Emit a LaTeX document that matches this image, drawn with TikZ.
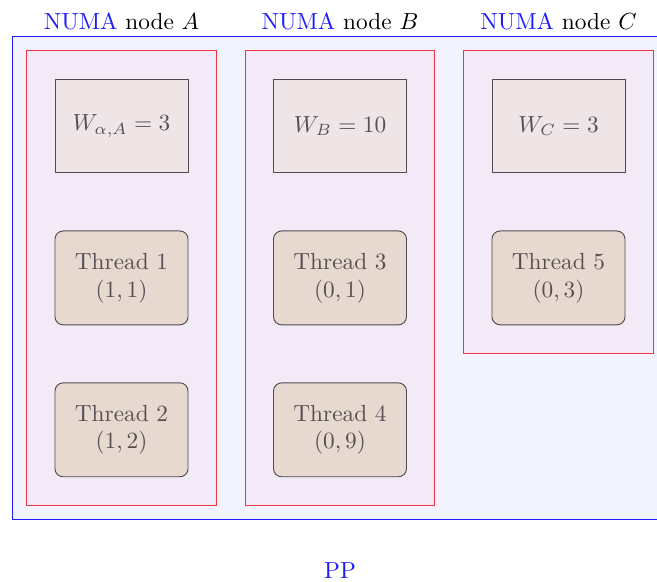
\documentclass[tikz,border=0pt]{standalone}
\usetikzlibrary{positioning, fit}
\definecolor{ppblue}{RGB}{30,30,250}
\definecolor{ppfill}{RGB}{243,243,253}
\definecolor{numared}{RGB}{240,55,65}
\definecolor{numafill}{RGB}{242,234,246}
\definecolor{wfill}{RGB}{239,229,231}
\definecolor{thfill}{RGB}{232,217,208}
\definecolor{boxline}{RGB}{80,74,78}
\definecolor{boxtext}{RGB}{85,78,82}
\pgfdeclarelayer{back}
\pgfdeclarelayer{mid}
\pgfsetlayers{back,mid,main}
\tikzset{
  wbox/.style={rectangle,draw=boxline,fill=wfill,text=boxtext,align=center,inner sep=0pt,minimum width=57.1pt,minimum height=40.3pt},
  thread/.style={wbox,fill=thfill,rounded corners=3.5pt},
  numa/.style={rectangle,draw=numared,fill=numafill,inner sep=12pt},
  pp/.style={rectangle,draw=ppblue,fill=ppfill,inner sep=6pt},
  numalabel/.style={inner sep=0pt}
}

\begin{document}
\begin{tikzpicture}[x=0.4292pt, y=-0.4292pt, node distance=24.5pt]
\clip (0,0) rectangle (657,582);
% weights
\node[wbox] (wa) at (121.5,126) {$W_{\alpha,A} = 3$};
\node[wbox] (wb) at (340,126) {$W_B = 10$};
\node[wbox] (wc) at (558.5,126) {$W_C = 3$};
% threads
\node[thread, below=of wa] (t1) {Thread 1\\$(1,1)$};
\node[thread, below=of t1] (t2) {Thread 2\\$(1,2)$};
\node[thread, below=of wb] (t3) {Thread 3\\$(0,1)$};
\node[thread, below=of t3] (t4) {Thread 4\\$(0,9)$};
\node[thread, below=of wc] (t5) {Thread 5\\$(0,3)$};
% NUMA nodes
\begin{pgfonlayer}{mid}
\node[numa, fit=(wa)(t2)] (numaA) {};
\node[numa, fit=(wb)(t4)] (numaB) {};
\node[numa, fit=(wc)(t5)] (numaC) {};
\end{pgfonlayer}
\begin{pgfonlayer}{back}
\node[pp, fit=(numaA)(numaB)(numaC)] (ppbox) {};
\end{pgfonlayer}
\node[numalabel, above=8.6pt of numaA] (labA) {\textcolor{ppblue}{NUMA} node $A$};
\node[numalabel, above=8.6pt of numaB] (labB) {\textcolor{ppblue}{NUMA} node $B$};
\node[numalabel, above=8.6pt of numaC] (labC) {\textcolor{ppblue}{NUMA} node $C$};
\node[text=ppblue, below=14.5pt of ppbox] (pplab) {PP};
\end{tikzpicture}
\end{document}
